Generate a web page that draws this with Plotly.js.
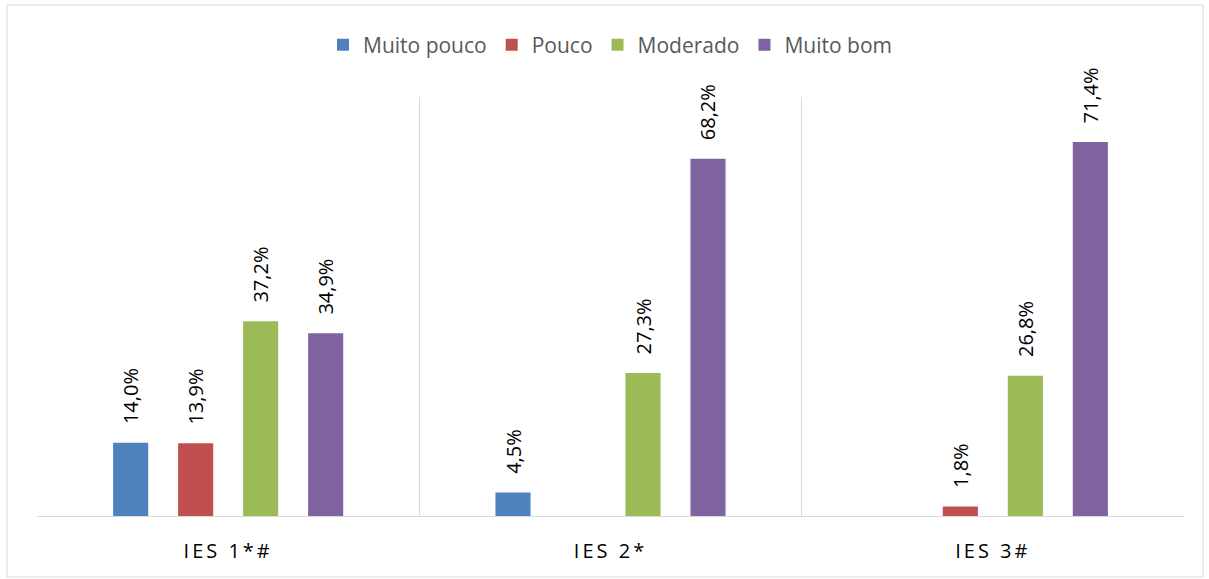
<!DOCTYPE html>
<html><head><meta charset="utf-8">
<script src="https://cdn.plot.ly/plotly-3.0.1.min.js"></script>
<style>
body{margin:0;background:#fff}
#c{width:1209px;height:579px}
#c .xtick text{letter-spacing:3px}
</style>
</head><body><div id="c"></div>
<script>
var categories = ['IES 1*#', 'IES 2*', 'IES 3#'];
var seriesNames = ['Muito pouco', 'Pouco', 'Moderado', 'Muito bom'];
var muitoPouco = [14.0, 4.5, null];
var pouco = [13.9, null, 1.8];
var moderado = [37.2, 27.3, 26.8];
var muitoBom = [34.9, 68.2, 71.4];
var colors = ['#4f81bd', '#c0504d', '#9bbb59', '#8064a2'];
var series = [muitoPouco, pouco, moderado, muitoBom];

function fmt(v){ return v == null ? '' : '\u00a0\u00a0\u00a0' + v.toFixed(1).replace('.', ',') + '%'; }

var traces = series.map(function(vals, i){
  return {
    type: 'bar', name: seriesNames[i], x: categories, y: vals,
    marker: {color: colors[i]},
    text: vals.map(fmt), textposition: 'outside', textangle: -90,
    constraintext: 'none',
    textfont: {family: 'Open Sans, sans-serif', size: 20, color: '#000'},
    cliponaxis: false, hoverinfo: 'none'
  };
});

var layout = {
  width: 1209, height: 579,
  margin: {l: 37, r: 25, t: 97, b: 63},
  paper_bgcolor: '#fff', plot_bgcolor: '#fff',
  barmode: 'group', bargap: 0.32, bargroupgap: 0.46,
  uniformtext: {mode: false},
  showlegend: true,
  legend: {orientation: 'h', x: 0.5, xanchor: 'center', y: 1.124, yanchor: 'middle',
           font: {family: 'Open Sans, sans-serif', size: 21, color: '#595959'},
           itemwidth: 30, traceorder: 'normal'},
  xaxis: {showgrid: true, tickson: 'boundaries', gridcolor: '#d9d9d9', gridwidth: 1,
          showline: true, linecolor: '#d9d9d9', linewidth: 1, ticks: '',
          tickfont: {family: 'Open Sans, sans-serif', size: 20, color: '#000'}, ticklabelstandoff: 17,
          fixedrange: true},
  yaxis: {range: [0, 80], showgrid: false, zeroline: false, showticklabels: false,
          showline: false, ticks: '', fixedrange: true},
  shapes: [{type: 'rect', xref: 'paper', yref: 'paper',
            x0: (7 - 37) / 1147, x1: (1203 - 37) / 1147,
            y0: -(577 - 516) / 419, y1: (516 - 5) / 419,
            line: {color: '#d9d9d9', width: 1}, fillcolor: 'rgba(0,0,0,0)', layer: 'below'}]
};

Plotly.newPlot('c', traces, layout, {displayModeBar: false, staticPlot: true});
</script></body></html>
